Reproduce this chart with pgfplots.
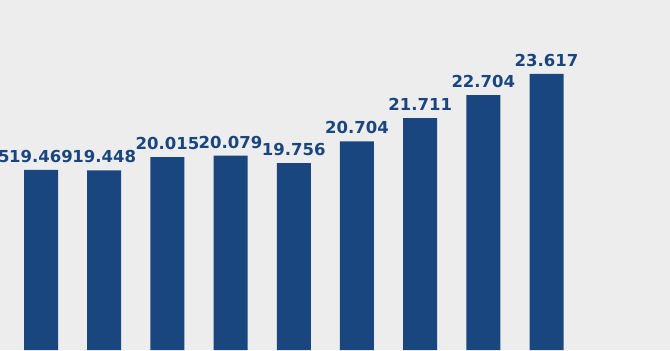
\documentclass[border=0pt]{standalone}
\usepackage{fontspec}
\setmainfont{DejaVu Sans}
\usepackage{pgfplots}
\pgfplotsset{compat=1.18}
\definecolor{barblue}{HTML}{1A4680}
\definecolor{bggray}{HTML}{EDEDED}
\begin{document}
\begin{tikzpicture}
\begin{axis}[
  scale only axis,
  width=736.4pt, height=350pt,
  xmin=-1.7, xmax=9.954,
  ymin=11.669, ymax=26.82,
  axis background/.style={fill=bggray},
  axis line style={draw=none},
  xtick=\empty, ytick=\empty,
  ybar, bar width=0.538,
  nodes near coords,
  point meta=explicit symbolic,
  every node near coord/.append style={anchor=south, inner sep=0pt, yshift=7pt,
     font=\fontsize{16.5}{18}\selectfont\bfseries, text=barblue},
]
\addplot[fill=barblue, draw=none] table[meta=label] {
x y label
-1 19.475 19.475
0 19.469 19.469
1 19.448 19.448
2 20.015 20.015
3 20.079 20.079
4 19.756 19.756
5 20.704 20.704
6 21.711 21.711
7 22.704 22.704
8 23.617 23.617
};
\coordinate (bl) at (axis cs:-0.649,11.669);
\coordinate (tr) at (axis cs:9.954,26.82);
\end{axis}
\pgfresetboundingbox
\useasboundingbox (bl) rectangle (tr);
\end{tikzpicture}
\end{document}
